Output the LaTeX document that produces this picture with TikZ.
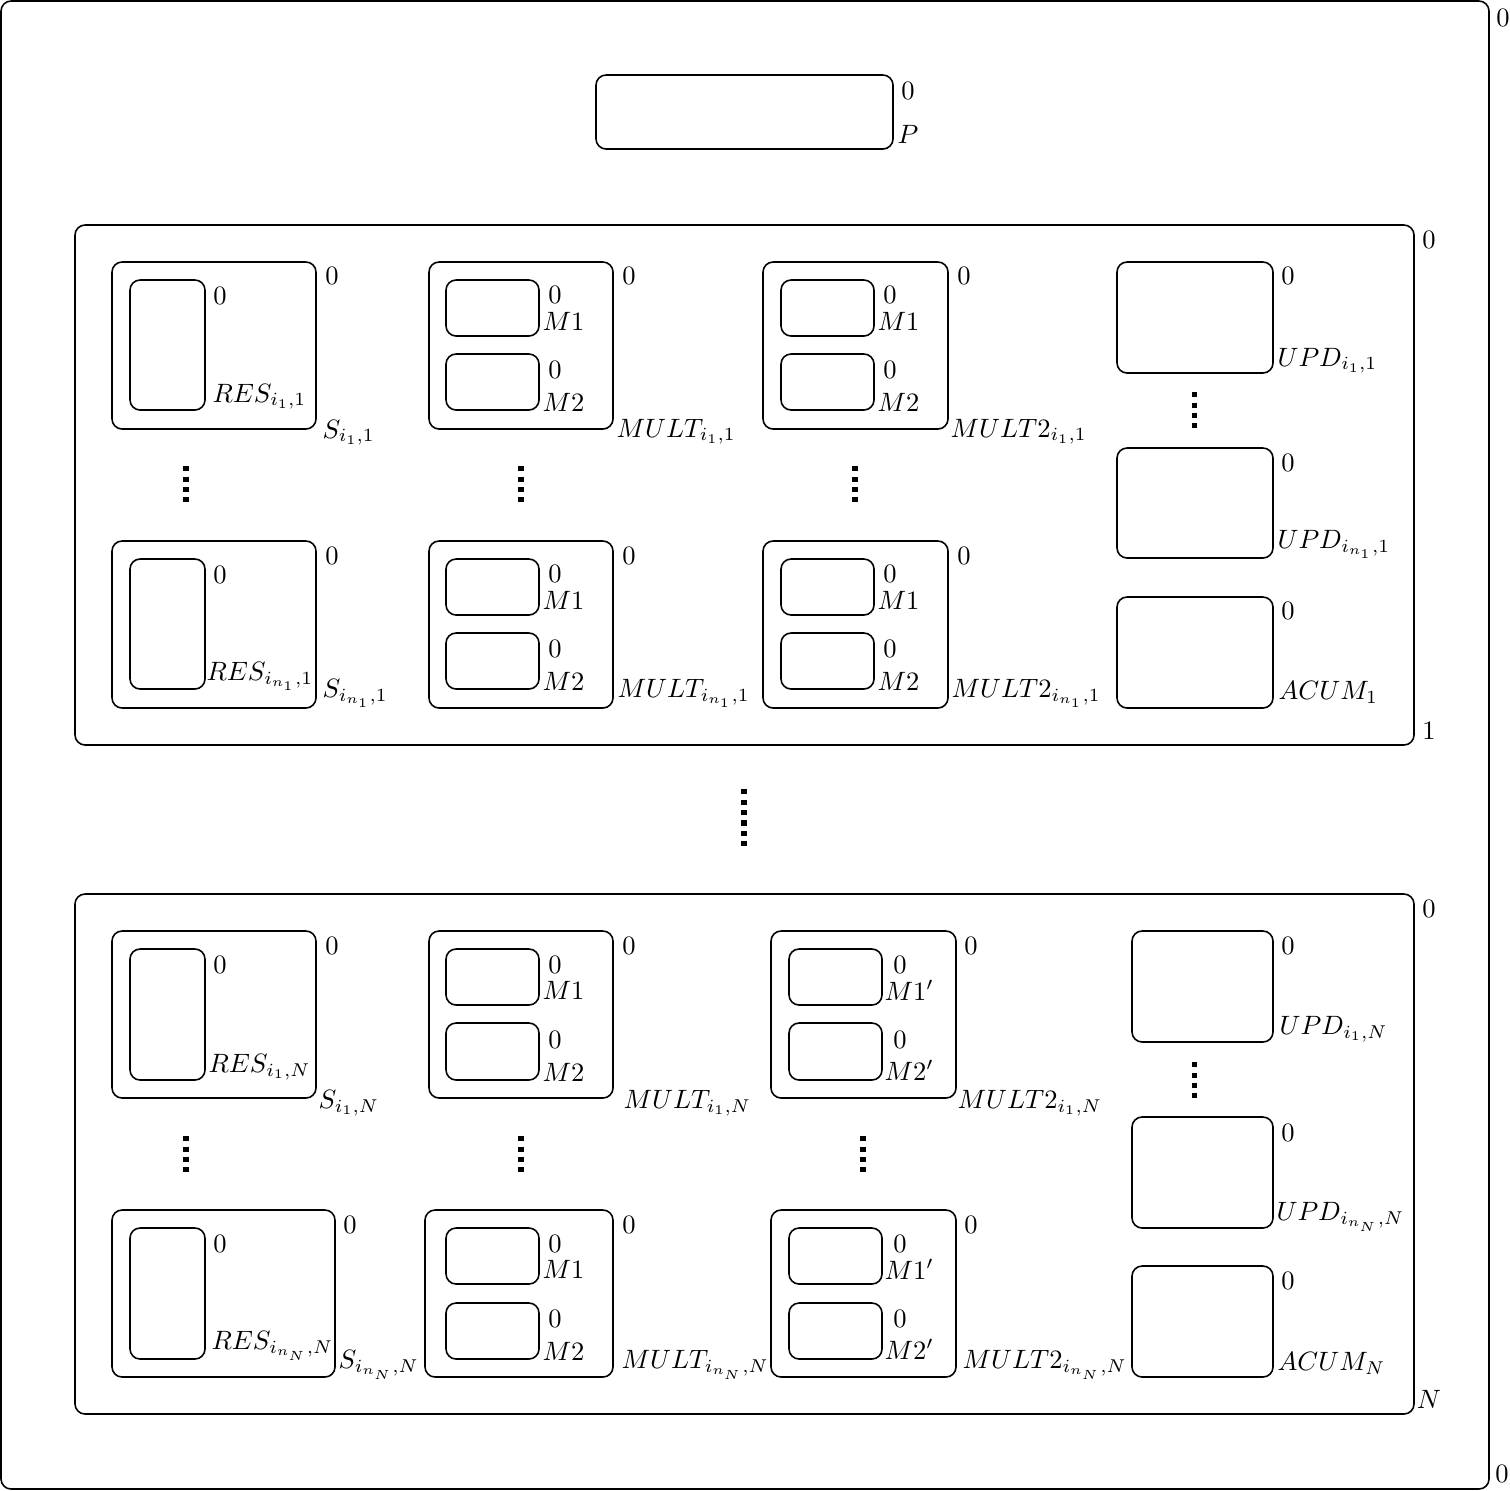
\documentclass[tikz,border=0pt]{standalone}
\usetikzlibrary{fit}
\begin{document}
\begin{tikzpicture}[x=0.37686pt, y=-0.37686pt,
  memb/.style={draw, rounded corners=3.8pt, line width=0.6pt, inner sep=0pt},
  lab/.style={inner sep=0pt},
  vdots/.style={line width=1.9pt, dash pattern=on 1.9pt off 2.05pt}]
\useasboundingbox (0,0) rectangle (1510,1490);
\newcommand\memb[5]{\node[memb, fit={(#2,#3) (#4,#5)}] (#1) {};}
\newcommand\zl[3]{\node[lab] (#1) at (#2,#3) {0};}
\newcommand\nl[4]{\node[lab, anchor=base west] (#1) at (#2,#3) {$#4$};}
% skin and P
\memb{skin}{1}{1}{1489}{1489}
\zl{skin-c}{1503}{18}
\zl{skin-n}{1502}{1474}
\memb{P}{596}{75}{893}{149}
\zl{P-c}{908}{91}
\node[lab] (P-n) at (908,134) {$P$};
% membrane 1
\memb{m1}{75}{225}{1414}{745}
\zl{m1-c}{1429}{240}
\node[lab] (m1-n) at (1429,731) {1};
\memb{S11}{112}{262}{316}{429} \zl{S11-c}{332}{276} \nl{S11-n}{322}{438}{S_{i_1,1}}
\memb{R11}{130}{280}{205}{410} \zl{R11-c}{220}{296} \nl{R11-n}{212}{402}{RES_{i_1,1}}
\memb{Sn1}{112}{541}{316}{708} \zl{Sn1-c}{332}{556} \nl{Sn1-n}{322}{697}{S_{i_{n_1},1}}
\memb{Rn1}{130}{559}{205}{689} \zl{Rn1-c}{220}{575} \nl{Rn1-n}{206}{680}{RES_{i_{n_1},1}}
\memb{MU11}{429}{262}{613}{429} \zl{MU11-c}{629}{276} \nl{MU11-n}{616}{437}{MULT_{i_1,1}}
\memb{MU11a}{446}{280}{539}{336} \zl{MU11a-c}{555}{295} \nl{MU11a-n}{542}{330}{M1}
\memb{MU11b}{446}{354}{539}{410} \zl{MU11b-c}{555}{370} \nl{MU11b-n}{542}{411}{M2}
\memb{MUn1}{429}{541}{613}{708} \zl{MUn1-c}{629}{556} \nl{MUn1-n}{617}{697}{MULT_{i_{n_1},1}}
\memb{MUn1a}{446}{559}{539}{615} \zl{MUn1a-c}{555}{574} \nl{MUn1a-n}{542}{609}{M1}
\memb{MUn1b}{446}{633}{539}{689} \zl{MUn1b-c}{555}{649} \nl{MUn1b-n}{542}{690}{M2}
\memb{MV11}{763}{262}{948}{429} \zl{MV11-c}{964}{276} \nl{MV11-n}{950}{437}{MULT2_{i_1,1}}
\memb{MV11a}{781}{280}{874}{336} \zl{MV11a-c}{890}{295} \nl{MV11a-n}{877}{330}{M1}
\memb{MV11b}{781}{354}{874}{410} \zl{MV11b-c}{890}{370} \nl{MV11b-n}{877}{411}{M2}
\memb{MVn1}{763}{541}{948}{708} \zl{MVn1-c}{964}{556} \nl{MVn1-n}{951}{697}{MULT2_{i_{n_1},1}}
\memb{MVn1a}{781}{559}{874}{615} \zl{MVn1a-c}{890}{574} \nl{MVn1a-n}{877}{609}{M1}
\memb{MVn1b}{781}{633}{874}{689} \zl{MVn1b-c}{890}{649} \nl{MVn1b-n}{877}{690}{M2}
\memb{U11}{1117}{262}{1273}{373} \zl{U11-c}{1288}{276} \nl{U11-n}{1277}{366}{UPD_{i_1,1}}
\memb{Un1}{1117}{448}{1273}{558} \zl{Un1-c}{1288}{463} \nl{Un1-n}{1277}{548}{UPD_{i_{n_1},1}}
\memb{A1}{1117}{597}{1273}{708} \zl{A1-c}{1288}{611} \nl{A1-n}{1278}{699}{ACUM_1}
\coordinate (d1a) at (186,466); \coordinate (d1b) at (186,502);
\coordinate (d2a) at (521,466); \coordinate (d2b) at (521,502);
\coordinate (d3a) at (855,466); \coordinate (d3b) at (855,502);
\coordinate (d4a) at (1194,392); \coordinate (d4b) at (1194,428);
\draw[vdots] (d1a) -- (d1b); \draw[vdots] (d2a) -- (d2b);
\draw[vdots] (d3a) -- (d3b); \draw[vdots] (d4a) -- (d4b);
% dots between membranes
\coordinate (dma) at (744,789); \coordinate (dmb) at (744,847);
\draw[vdots] (dma) -- (dmb);
% membrane N
\memb{mN}{75}{894}{1414}{1414}
\zl{mN-c}{1429}{909}
\node[lab] (mN-n) at (1429,1399) {$N$};
\memb{S1N}{112}{931}{316}{1098} \zl{S1N-c}{332}{946} \nl{S1N-n}{318}{1108}{S_{i_1,N}}
\memb{R1N}{130}{949}{205}{1080} \zl{R1N-c}{220}{965} \nl{R1N-n}{208}{1072}{RES_{i_1,N}}
\memb{SnN}{112}{1210}{335}{1377} \zl{SnN-c}{350}{1225} \nl{SnN-n}{338}{1368}{S_{i_{n_N},N}}
\memb{RnN}{130}{1228}{205}{1359} \zl{RnN-c}{220}{1244} \nl{RnN-n}{211}{1349}{RES_{i_{n_N},N}}
\memb{MU1N}{429}{931}{613}{1098} \zl{MU1N-c}{629}{946} \nl{MU1N-n}{623}{1108}{MULT_{i_1,N}}
\memb{MU1Na}{446}{949}{539}{1005} \zl{MU1Na-c}{555}{965} \nl{MU1Na-n}{542}{999}{M1}
\memb{MU1Nb}{446}{1023}{539}{1080} \zl{MU1Nb-c}{555}{1040} \nl{MU1Nb-n}{542}{1081}{M2}
\memb{MUnN}{425}{1210}{613}{1377} \zl{MUnN-c}{629}{1225} \nl{MUnN-n}{621}{1368}{MULT_{i_{n_N},N}}
\memb{MUnNa}{446}{1228}{539}{1284} \zl{MUnNa-c}{555}{1244} \nl{MUnNa-n}{542}{1278}{M1}
\memb{MUnNb}{446}{1303}{539}{1359} \zl{MUnNb-c}{555}{1319} \nl{MUnNb-n}{542}{1360}{M2}
\memb{MV1N}{771}{931}{956}{1098} \zl{MV1N-c}{971}{946} \nl{MV1N-n}{957}{1108}{MULT2_{i_1,N}}
\memb{MV1Na}{789}{949}{882}{1005} \zl{MV1Na-c}{900}{965} \nl{MV1Na-n}{884}{1000}{M1'}
\memb{MV1Nb}{789}{1023}{882}{1080} \zl{MV1Nb-c}{900}{1040} \nl{MV1Nb-n}{884}{1080}{M2'}
\memb{MVnN}{771}{1210}{956}{1377} \zl{MVnN-c}{971}{1225} \nl{MVnN-n}{962}{1368}{MULT2_{i_{n_N},N}}
\memb{MVnNa}{789}{1228}{882}{1284} \zl{MVnNa-c}{900}{1244} \nl{MVnNa-n}{884}{1279}{M1'}
\memb{MVnNb}{789}{1303}{882}{1359} \zl{MVnNb-c}{900}{1319} \nl{MVnNb-n}{884}{1359}{M2'}
\memb{U1N}{1132}{931}{1273}{1042} \zl{U1N-c}{1288}{946} \nl{U1N-n}{1279}{1034}{UPD_{i_1,N}}
\memb{UnN}{1132}{1117}{1273}{1228} \zl{UnN-c}{1288}{1133} \nl{UnN-n}{1276}{1220}{UPD_{i_{n_N},N}}
\memb{AN}{1132}{1266}{1273}{1377} \zl{AN-c}{1288}{1281} \nl{AN-n}{1277}{1370}{ACUM_N}
\coordinate (e1a) at (186,1136); \coordinate (e1b) at (186,1172);
\coordinate (e2a) at (521,1136); \coordinate (e2b) at (521,1172);
\coordinate (e3a) at (863,1136); \coordinate (e3b) at (863,1172);
\coordinate (e4a) at (1194,1062); \coordinate (e4b) at (1194,1098);
\draw[vdots] (e1a) -- (e1b); \draw[vdots] (e2a) -- (e2b);
\draw[vdots] (e3a) -- (e3b); \draw[vdots] (e4a) -- (e4b);
\end{tikzpicture}
\end{document}
